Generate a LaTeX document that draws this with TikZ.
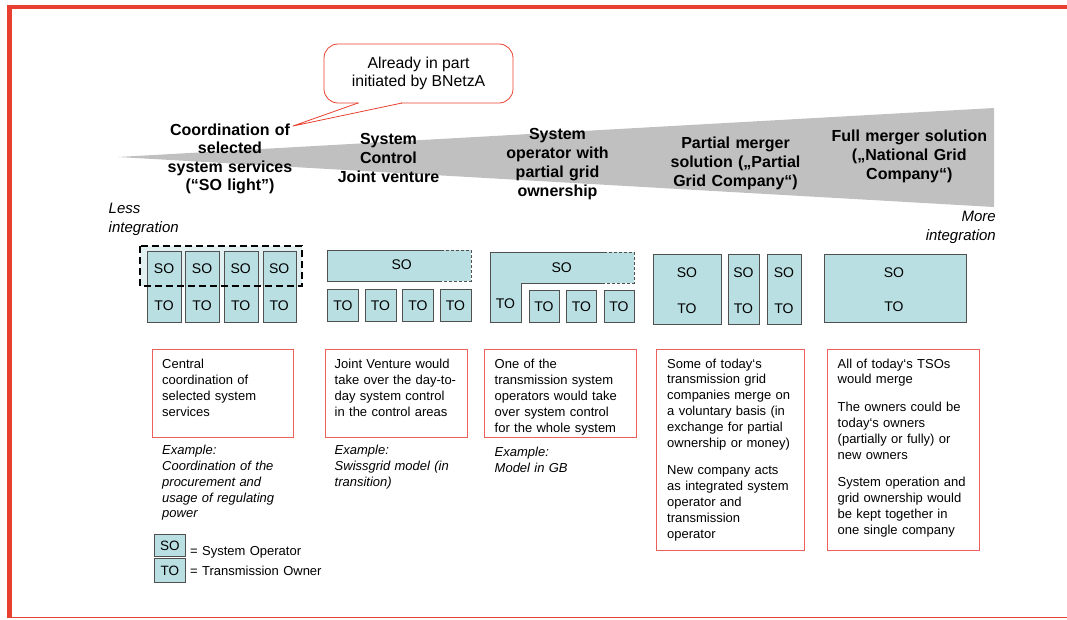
\documentclass[tikz,border=0pt]{standalone}
\usepackage{fontspec}
\setmainfont{Liberation Sans}
\usetikzlibrary{positioning}
\definecolor{framered}{RGB}{232,64,48}
\definecolor{descred}{RGB}{234,96,90}
\definecolor{wedgegray}{RGB}{192,192,192}
\definecolor{unitfill}{RGB}{185,223,226}
\definecolor{unitline}{RGB}{80,80,80}
\definecolor{halofill}{RGB}{226,240,241}
\tikzset{
  headtxt/.style={font=\fontsize{16}{19}\selectfont\bfseries, text width=200pt, align=center, inner sep=0pt, anchor=base},
  desctxt/.style={font=\fontsize{13}{15.9}\selectfont, text width=160pt, align=left, inner sep=0pt, anchor=base west},
  exmptxt/.style={desctxt, font=\fontsize{13}{15.8}\selectfont\itshape},
  descbox/.style={draw=descred, line width=0.9pt, inner sep=0pt, anchor=north west},
  unitbox/.style={draw=unitline, fill=unitfill, line width=0.8pt, inner sep=0pt, anchor=north west},
  unitlbl/.style={font=\fontsize{14}{16}\selectfont, inner sep=0pt},
  scaletxt/.style={font=\fontsize{15}{19}\selectfont\itshape, text width=110pt, inner sep=0pt},
}
\begin{document}
\begin{tikzpicture}[x=1pt, y=-1pt]
  \useasboundingbox (0,0) rectangle (1067,619);
  % frame
  \draw[framered, line width=4.4pt] (9.5,7) -- (1067,7);
  \draw[framered, line width=4.4pt] (9.5,5) -- (9.5,617.5);
  \draw[framered, line width=1.2pt] (8,617.3) -- (1067,617.3);

  % integration wedge
  \fill[wedgegray] (118,157) -- (994,108) -- (994,207) -- cycle;
  \node[scaletxt, align=left, anchor=base west] (less) at (108.5,213.3) {Less\\integration};
  \node[scaletxt, align=right, anchor=base east] (more) at (996,221.7) {More\\integration};

  % headings
  \node[headtxt, font=\fontsize{16}{18.6}\selectfont\bfseries] (head-light) at (230,135) {Coordination of\\selected\\system services\\(“SO light”)};
  \node[headtxt, font=\fontsize{16}{19.3}\selectfont\bfseries] (head-jv) at (388.5,144) {System\\Control\\Joint venture};
  \node[headtxt] (head-so) at (557.5,139.3) {System\\operator with\\partial grid\\ownership};
  \node[headtxt] (head-partial) at (735.5,148.3) {Partial merger\\solution („Partial\\Grid Company“)};
  \node[headtxt] (head-full) at (909.3,141) {Full merger solution\\(„National Grid\\Company“)};

  % callout
  \node[draw=framered, line width=0.8pt, rounded corners=14pt, minimum width=189pt, minimum height=59pt,
        align=center, font=\fontsize{15.8}{18.7}\selectfont] (bnetza) at (418.5,73.5) {Already in part\\initiated by BNetzA};
  \coordinate (ptr-a) at (358,103);
  \coordinate (ptr-b) at (402,103);
  \coordinate (ptr-tip) at (293,126);
  \draw[white, line width=2pt] (359,103) -- (401,103);
  \draw[framered, line width=0.8pt, line join=round] (ptr-a) -- (ptr-tip) -- (ptr-b);

  % SO light: separate columns with coordinated SO layer
  \fill[halofill] (140,246) rectangle (302,286);
  \foreach \i/\x in {1/147.3,2/185.3,3/224,4/262.5} {
    \node[unitbox, minimum width=33.5pt, minimum height=71pt] (lt-\i) at (\x,251) {};
    \node[unitlbl] at (\x+16.75,269) {SO};
    \node[unitlbl] at (\x+16.75,306) {TO};
  }
  \draw[black, line width=2pt, dash pattern=on 7pt off 4pt] (140,246) rectangle (302,286);

  % joint venture
  \fill[unitfill] (327,250) rectangle (471,281);
  \draw[unitline, line width=0.8pt] (441,250) -- (327,250) -- (327,281) -- (441,281);
  \draw[unitline, line width=0.8pt, dash pattern=on 3pt off 2pt] (441,250) -- (471,250) -- (471,281) -- (441,281);
  \node[unitlbl] (jv-so) at (401.7,265) {SO};
  \foreach \i/\x in {1/327,2/364.5,3/402,4/439.5} {
    \node[unitbox, minimum width=31pt, minimum height=32pt, font=\fontsize{14}{16}\selectfont] (jv-to\i) at (\x,289) {TO};
  }

  % system operator with partial grid ownership
  \fill[unitfill] (490,252) -- (634,252) -- (634,283) -- (521,283) -- (521,322) -- (490,322) -- cycle;
  \draw[unitline, line width=0.8pt] (604,252) -- (490,252) -- (490,322) -- (521,322) -- (521,283) -- (604,283);
  \draw[unitline, line width=0.8pt, dash pattern=on 3pt off 2pt] (604,252) -- (634,252) -- (634,283) -- (604,283);
  \node[unitlbl] (op-so) at (561.7,268) {SO};
  \node[unitlbl] (op-to) at (505.5,304) {TO};
  \foreach \i/\x in {1/528.5,2/566,3/603.5} {
    \node[unitbox, minimum width=30pt, minimum height=32pt, font=\fontsize{14}{16}\selectfont] (op-to\i) at (\x,290) {TO};
  }

  % partial merger
  \foreach \i/\x/\w in {1/653/68,2/728/31,3/767/34} {
    \node[unitbox, minimum width=\w pt, minimum height=70pt] (pm-\i) at (\x,254) {};
    \node[unitlbl] at (\x+\w/2,272.7) {SO};
    \node[unitlbl] at (\x+\w/2,308.3) {TO};
  }

  % full merger
  \node[unitbox, minimum width=142pt, minimum height=68pt] (fm) at (823.5,254.3) {};
  \node[unitlbl] at (894,273) {SO};
  \node[unitlbl] at (894,307) {TO};

  % descriptions
  \node[descbox, minimum width=141pt, minimum height=88pt] (desc-light) at (152,349) {};
  \node[desctxt] at (162,368.7) {Central\\coordination of\\selected system\\services};
  \node[exmptxt] at (162,454.7) {Example:\\Coordination of the\\procurement and\\usage of regulating\\power};

  \node[descbox, minimum width=142pt, minimum height=88pt] (desc-jv) at (324.5,349) {};
  \node[desctxt] at (334.5,368.7) {Joint Venture would\\take over the day-to-\\day system control\\in the control areas};
  \node[exmptxt] at (334.5,454.7) {Example:\\Swissgrid model (in\\transition)};

  \node[descbox, minimum width=151.5pt, minimum height=88pt] (desc-so) at (484.3,349) {};
  \node[desctxt] at (494.5,368.5) {One of the\\transmission system\\operators would take\\over system control\\for the whole system};
  \node[exmptxt] at (494.5,456.4) {Example:\\Model in GB};

  \node[descbox, minimum width=147.5pt, minimum height=201pt] (desc-partial) at (656,349) {};
  \node[desctxt] at (667,368) {Some of today‘s\\transmission grid\\companies merge on\\a voluntary basis (in\\exchange for partial\\ownership or money)\\[11.5pt]New company acts\\as integrated system\\operator and\\transmission\\operator};

  \node[descbox, minimum width=152.5pt, minimum height=201pt] (desc-full) at (826.8,349) {};
  \node[desctxt] at (837.5,368) {All of today‘s TSOs\\would merge\\[11.5pt]The owners could be\\today‘s owners\\(partially or fully) or\\new owners\\[11.5pt]System operation and\\grid ownership would\\be kept together in\\one single company};

  % legend
  \node[unitbox, minimum width=31pt, minimum height=22pt] (key-so) at (154.3,534) {};
  \node[unitlbl, font=\fontsize{13.5}{16}\selectfont] at (169.8,546) {SO};
  \node[unitbox, minimum width=31pt, minimum height=23.5pt] (key-to) at (154.3,558.3) {};
  \node[unitlbl, font=\fontsize{13.5}{16}\selectfont] at (169.8,570.5) {TO};
  \node[desctxt, text width=150pt] (key-so-txt) at (190,555) {= System Operator};
  \node[desctxt, text width=150pt] (key-to-txt) at (190,575) {= Transmission Owner};
\end{tikzpicture}
\end{document}
